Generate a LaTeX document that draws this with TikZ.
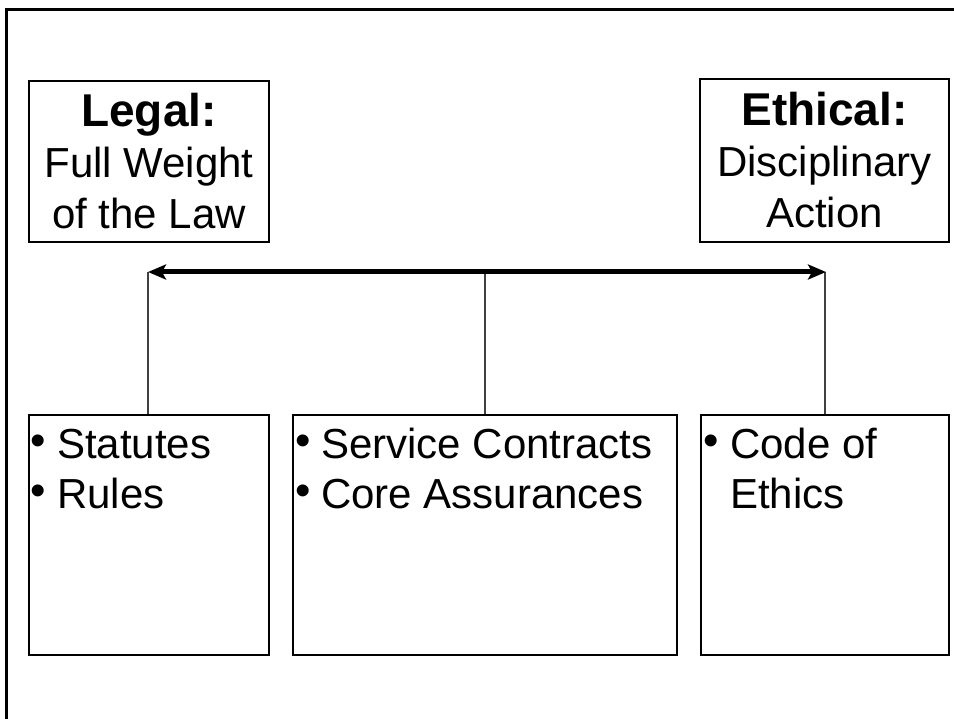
\documentclass[tikz,border=0pt]{standalone}
\usepackage{fontspec}
\setmainfont{Liberation Sans}
\usetikzlibrary{arrows.meta}
\newcommand\regfont{\fontsize{42}{51}\selectfont}
\newcommand\headfont{\fontsize{46}{51}\selectfont\bfseries}
\newcommand\bulfont{\fontsize{44}{50}\selectfont}
\tikzset{
  x=1pt, y=-1pt,
  topbox/.style={draw=black, line width=2pt, inner sep=0pt, align=center, font=\regfont},
  listbox/.style={draw=black, line width=2pt, inner sep=0pt, minimum height=240pt},
  itemtext/.style={inner sep=0pt, anchor=base west, font=\regfont},
  bul/.style={inner sep=0pt, anchor=north, align=center, font=\bulfont},
  conn/.style={draw=black!75, line width=1.4pt},
  bigarrow/.style={line width=5pt, {Stealth[length=18pt,width=15pt,inset=4pt]}-{Stealth[length=18pt,width=15pt,inset=4pt]}},
  frame/.style={line width=3pt}
}
\begin{document}
\begin{tikzpicture}
\useasboundingbox (0,0) rectangle (954,719);
% partial outer frame
\draw[frame] (6.3,722) -- (6.3,9.5) -- (957,9.5);

% top boxes
\node[topbox, minimum width=240pt, minimum height=161pt] (legal) at (149,161.5)
  {{\headfont Legal:}\\Full Weight\\of the Law};
\node[topbox, minimum width=249pt, minimum height=163pt] (ethical) at (824.5,160.5)
  {{\headfont Ethical:}\\Disciplinary\\Action};

% bottom boxes
\node[listbox, minimum width=240pt] (stat) at (149,535) {};
\node[listbox, minimum width=384pt] (serv) at (485,535) {};
\node[listbox, minimum width=248pt] (code) at (825,535) {};

% list contents
\node[bul] (b1) at (38.7,434.5) {•\\•};
\node[itemtext] (t1) at (57,458) {Statutes};
\node[itemtext] (t2) at (57,508) {Rules};

\node[bul] (b3) at (303,434.5) {•\\•};
\node[itemtext] (t3) at (321,458) {Service Contracts};
\node[itemtext] (t4) at (321,508) {Core Assurances};

\node[bul] (b5) at (711,434.5) {•};
\node[itemtext] (t5) at (730,458) {Code of};
\node[itemtext] (t6) at (730,508) {Ethics};

% connector coordinates
\coordinate (aL) at (148,272);
\coordinate (aR) at (826,272);
\coordinate (aM) at (serv.north |- aL);

\draw[conn] (stat.north -| aL) -- (aL);
\draw[conn] (serv.north) -- (aM);
\draw[conn] (code.north) -- (code.north |- aR);
\draw[bigarrow] (aL) -- (aR);
\end{tikzpicture}
\end{document}
